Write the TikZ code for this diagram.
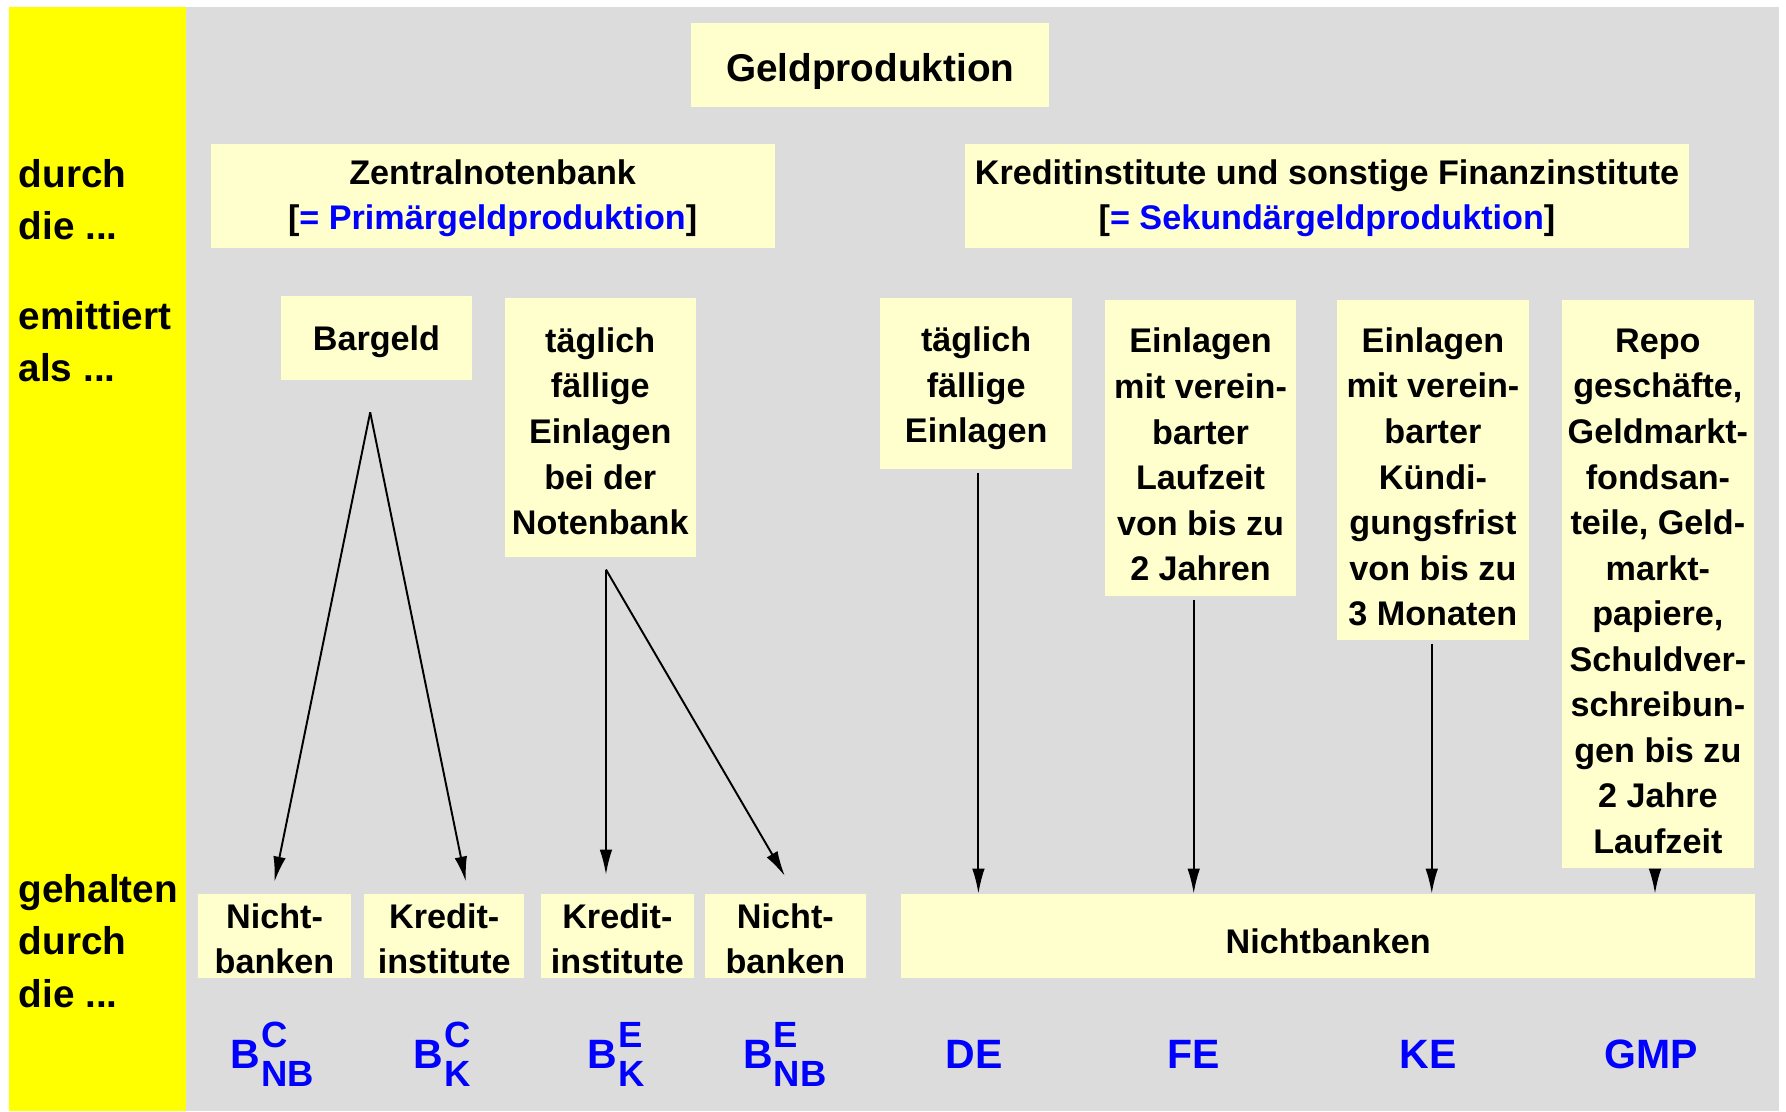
\documentclass[tikz,border=0pt]{standalone}
\usepackage{fontspec}
\setmainfont{Liberation Sans}
\usetikzlibrary{arrows.meta}
\definecolor{bandgelb}{RGB}{255,255,0}
\definecolor{grund}{RGB}{220,220,220}
\definecolor{kasten}{RGB}{255,255,206}
\definecolor{blau}{RGB}{0,0,255}
\newcommand{\hoch}[1]{\rule{0pt}{#1}}
\newcommand{\bsym}[2]{B\kern0.5pt\rlap{\raisebox{9pt}{\fontsize{16}{16}\selectfont #1}}\raisebox{-8pt}{\fontsize{16}{16}\selectfont #2}}

\begin{document}
\begin{tikzpicture}[x=0.5pt,y=-0.5pt,
        box/.style={fill=kasten,inner sep=0pt,align=center,font=\fontsize{15}{20}\selectfont\bfseries},
        side/.style={anchor=west,inner sep=0pt,align=left,font=\fontsize{17}{23}\selectfont\bfseries},
        sym/.style={anchor=base,inner sep=0pt,text=blau,font=\fontsize{18}{20}\selectfont\bfseries},
        pfeil/.style={line width=0.85pt,-{Latex[length=11pt,width=5.5pt]}}]
        \useasboundingbox (0,0) rectangle (1568,976);
        \fill[white] (0,0) rectangle (1568,976);
        \fill[bandgelb] (8,6) rectangle (163,975);
        \fill[grund] (163,6) rectangle (1562,975);

        \node[side] (durch) at (16,175.5) {durch\\die ...};
        \node[side] (emit) at (16,300) {emittiert\\als ...};
        \node[side] (gehalten) at (16,826) {gehalten\\durch\\die ...};

        \node[box,font=\fontsize{17}{20}\selectfont\bfseries,minimum width=157pt,minimum height=37pt] (titel) at (764,57) {\hoch{18pt}Geldproduktion};
        \node[box,minimum width=247.5pt,minimum height=46pt] (znb) at (432.5,172) {\hoch{13pt}Zentralnotenbank\\{}[\textcolor{blau}{= Primärgeldproduktion}]};
        \node[box,minimum width=318pt,minimum height=46pt] (kfi) at (1165,172) {\hoch{13pt}Kreditinstitute und sonstige Finanzinstitute\\{}[\textcolor{blau}{= Sekundärgeldproduktion}]};

        \node[box,minimum width=83.5pt,minimum height=37pt] (bar) at (330.5,297) {\hoch{14pt}Bargeld};
        \node[box,minimum width=84pt,minimum height=113.5pt] (tfn) at (527,375.5) {\hoch{14pt}täglich\\fällige\\Einlagen\\bei der\\Notenbank};
        \node[box,minimum width=84pt,minimum height=75pt] (tfe) at (857,337) {\hoch{15pt}täglich\\fällige\\Einlagen};
        \node[box,minimum width=84pt,minimum height=130pt] (laz) at (1054,393) {\hoch{17pt}Einlagen\\mit verein-\\barter\\Laufzeit\\von bis zu\\2 Jahren};
        \node[box,minimum width=84pt,minimum height=149.5pt] (kue) at (1258,412.5) {\hoch{17pt}Einlagen\\mit verein-\\barter\\Kündi-\\gungsfrist\\von bis zu\\3 Monaten};
        \node[box,minimum width=84.5pt,minimum height=249.5pt] (gmp) at (1455.5,512.5) {\hoch{17pt}Repo\\geschäfte,\\Geldmarkt-\\fondsan-\\teile, Geld-\\markt-\\papiere,\\Schuldver-\\schreibun-\\gen bis zu\\2 Jahre\\Laufzeit};

        \node[box,minimum width=67pt,minimum height=37pt] (nb1) at (241,822) {\hoch{13pt}Nicht-\\banken};
        \node[box,minimum width=70pt,minimum height=37pt] (ki1) at (390,822) {\hoch{13pt}Kredit-\\institute};
        \node[box,minimum width=67pt,minimum height=37pt] (ki2) at (542,822) {\hoch{13pt}Kredit-\\institute};
        \node[box,minimum width=70.5pt,minimum height=37pt] (nb2) at (689.5,822) {\hoch{13pt}Nicht-\\banken};
        \node[box,minimum width=375pt,minimum height=37pt] (nbk) at (1166,822) {\hoch{15pt}Nichtbanken};

        \node[sym] (bcnb) at (239,938) {\bsym{C}{NB}};
        \node[sym] (bck) at (388,938) {\bsym{C}{K}};
        \node[sym] (bek) at (541,938) {\bsym{E}{K}};
        \node[sym] (benb) at (689,938) {\bsym{E}{NB}};
        \node[sym] (de) at (855,938) {DE};
        \node[sym] (fe) at (1048,938) {FE};
        \node[sym] (ke) at (1254,938) {KE};
        \node[sym] (gm) at (1450,938) {GMP};

        \coordinate (bar-o) at (325,362);
        \coordinate (tfn-o) at (532,500);
        \coordinate (tfe-o) at (859,415);
        \coordinate (laz-o) at (1048,527);
        \coordinate (kue-o) at (1257,565);
        \coordinate (gmp-o) at (1453,765);
        \coordinate (nb1-i) at (241,774);
        \coordinate (ki1-i) at (409,774);
        \coordinate (ki2-i) at (532,768);
        \coordinate (nb2-i) at (689,769);

        \draw[pfeil] (bar-o) -- (nb1-i);
        \draw[pfeil] (bar-o) -- (ki1-i);
        \draw[pfeil] (tfn-o) -- (ki2-i);
        \draw[pfeil] (tfn-o) -- (nb2-i);
        \draw[pfeil] (tfe-o) -- (tfe-o |- nbk.north);
        \draw[pfeil] (laz-o) -- (laz-o |- nbk.north);
        \draw[pfeil] (kue-o) -- (kue-o |- nbk.north);
        \draw[pfeil] (gmp-o) -- (gmp-o |- nbk.north);
    \end{tikzpicture}
\end{document}
